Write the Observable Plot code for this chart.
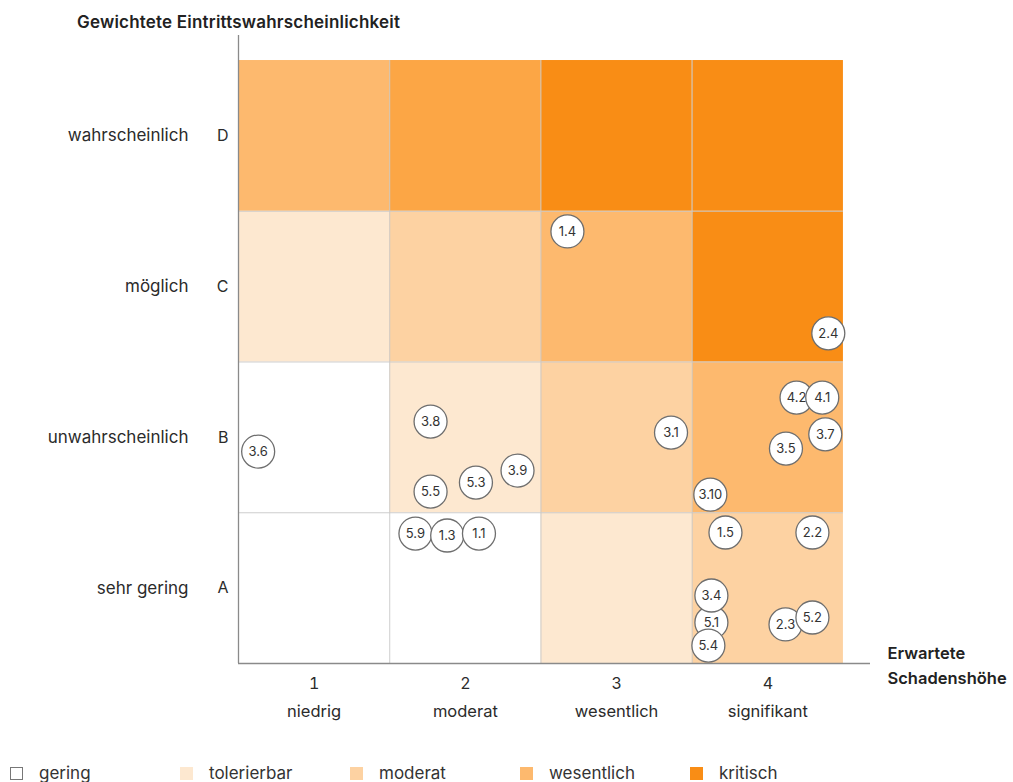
<!DOCTYPE html>
<html>
<head>
<meta charset="utf-8">
<script src="https://cdn.jsdelivr.net/npm/d3@7"></script>
<script src="https://cdn.jsdelivr.net/npm/@observablehq/plot@0.6"></script>
<style>
  html, body { margin: 0; padding: 0; background: #fff; }
  body { width: 1013px; height: 782px; overflow: hidden; font-family: Inter, "Open Sans", sans-serif; color: #2b2b2b; }
  #title { height: 35px; padding-left: 77px; font-size: 17px; font-weight: 600; color: #222; box-sizing: border-box; padding-top: 10px; line-height: 24px; letter-spacing: 0.2px; }
  #chart svg { display: block; }
  #legend { display: flex; margin-top: 33px; padding-left: 10px; height: 20px; align-items: center; font-size: 17px; color: #333; }
  .item { width: 170px; display: flex; align-items: center; }
  .sw { width: 13px; height: 13px; margin-right: 16px; box-sizing: border-box; }
</style>
</head>
<body>
<div id="title">Gewichtete Eintrittswahrscheinlichkeit</div>
<div id="chart"></div>
<div id="legend"></div>
<script>
// ---- data ----
const colNumbers = ["1", "2", "3", "4"];
const colLabels = ["niedrig", "moderat", "wesentlich", "signifikant"];
const rowLetters = ["A", "B", "C", "D"];
const rowLabels = ["sehr gering", "unwahrscheinlich", "möglich", "wahrscheinlich"];

const levelNames = ["gering", "tolerierbar", "moderat", "wesentlich", "hoch", "kritisch"];
const levelColors = ["#ffffff", "#fde8d0", "#fdd2a2", "#fdb96e", "#fca645", "#f98d15"];
const legendNames = ["gering", "tolerierbar", "moderat", "wesentlich", "kritisch"];

// risk level per row (A..D), columns 1..4
const rowA = ["gering", "gering", "tolerierbar", "moderat"];
const rowB = ["gering", "tolerierbar", "moderat", "wesentlich"];
const rowC = ["tolerierbar", "moderat", "wesentlich", "kritisch"];
const rowD = ["wesentlich", "hoch", "kritisch", "kritisch"];

// risks: id, impact position (x), likelihood position (y); drawing order matters for overlaps
const riskIds = ["1.4", "2.4", "4.2", "4.1", "3.1", "3.7", "3.5", "3.6", "3.8", "3.9", "5.3", "5.5", "3.10", "1.5", "2.2", "5.9", "1.3", "1.1", "5.1", "3.4", "5.4", "2.3", "5.2"];
const riskX = [2.675, 4.40, 4.19, 4.36, 3.36, 4.38, 4.12, 0.63, 1.77, 2.345, 2.07, 1.77, 3.62, 3.72, 4.295, 1.67, 1.88, 2.09, 3.627, 3.627, 3.607, 4.117, 4.295];
const riskY = [3.366, 2.69, 2.264, 2.264, 2.032, 2.02, 1.926, 1.906, 2.105, 1.78, 1.70, 1.64, 1.62, 1.369, 1.369, 1.362, 1.349, 1.362, 0.772, 0.951, 0.619, 0.759, 0.805];

// ---- build tables ----
const matrix = [rowA, rowB, rowC, rowD];
const cells = matrix.flatMap((row, r) => row.map((level, c) => ({row: r + 1, col: c + 1, level})));
const risks = riskIds.map((id, i) => ({id, x: riskX[i], y: riskY[i]}));
const inner = d3.range(1, colNumbers.length).map(i => i + 0.5);
const nCols = colNumbers.length, nRows = rowLetters.length;

const bubbleMarks = risks.flatMap(d => [
  Plot.dot([d], {x: "x", y: "y", r: 16.5, fill: "white", stroke: "#6e6e6e", strokeWidth: 1.3}),
  Plot.text([d], {x: "x", y: "y", text: "id", fontSize: 13, fill: "#333", letterSpacing: "-0.5px"})
]);

const chart = Plot.plot({
  width: 1013,
  height: 695,
  marginLeft: 238,
  marginRight: 143,
  marginTop: 0,
  marginBottom: 67,
  style: {fontFamily: "Inter, 'Open Sans', sans-serif", fontSize: "16px", color: "#2b2b2b"},
  x: {domain: [0.5, 4.679], axis: null},
  y: {domain: [0.5, 4.666], axis: null},
  color: {type: "ordinal", domain: levelNames, range: levelColors},
  marks: [
    Plot.rect(cells, {x1: d => d.col - 0.5, x2: d => d.col + 0.5, y1: d => d.row - 0.5, y2: d => d.row + 0.5, fill: "level"}),
    Plot.ruleX(inner, {y1: 0.5, y2: nRows + 0.5, stroke: "#c9c9c9", strokeWidth: 1, strokeOpacity: 0.9}),
    Plot.ruleY(inner, {x1: 0.5, x2: nCols + 0.5, stroke: "#c9c9c9", strokeWidth: 1, strokeOpacity: 0.9}),
    Plot.ruleX([0.5], {stroke: "#8a8a8a", strokeWidth: 1.3}),
    Plot.ruleY([0.5], {stroke: "#8a8a8a", strokeWidth: 1.3}),
    Plot.axisX({ticks: d3.range(1, nCols + 1), tickFormat: i => colNumbers[i - 1], tickSize: 0, tickPadding: 14, fontSize: 16, fill: "#2b2b2b", label: null}),
    Plot.text(colLabels, {x: (d, i) => i + 1, y: 0.5, text: d => d, dy: 48, fontSize: 16.5, fill: "#2b2b2b"}),
    Plot.axisY({ticks: d3.range(1, nRows + 1), tickFormat: i => rowLetters[i - 1], tickSize: 0, tickPadding: 10, fontSize: 16, fill: "#2b2b2b", label: null}),
    Plot.text(rowLabels, {x: 0.5, y: (d, i) => i + 1, text: d => d, dx: -50, textAnchor: "end", fontSize: 17, fill: "#2b2b2b"}),
    Plot.text(["Erwartete\nSchadenshöhe"], {x: 4.679, y: 0.5, text: d => d, dx: 17, textAnchor: "start", lineAnchor: "middle", lineHeight: 1.5, fontSize: 16.5, fontWeight: 600, fill: "#222"}),
    ...bubbleMarks
  ]
});
document.getElementById("chart").appendChild(chart);

const legend = d3.select("#legend");
legendNames.forEach(name => {
  const item = legend.append("div").attr("class", "item");
  const color = levelColors[levelNames.indexOf(name)];
  item.append("div").attr("class", "sw")
    .style("background", color)
    .style("border", name === "gering" ? "1px solid #777" : "none");
  item.append("span").text(name);
});
</script>
</body>
</html>
